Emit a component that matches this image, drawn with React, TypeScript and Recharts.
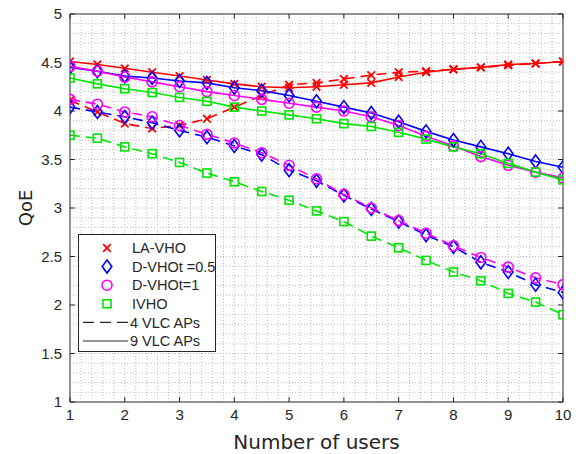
import React from "react"
import { LineChart, Line, XAxis, YAxis, ReferenceLine, Legend } from "recharts"

// x: number of users
const users = [1, 1.5, 2, 2.5, 3, 3.5, 4, 4.5, 5, 5.5, 6, 6.5, 7, 7.5, 8, 8.5, 9, 9.5, 10]

// 9 VLC APs (solid)
const laVho9 = [4.51, 4.48, 4.44, 4.4, 4.36, 4.32, 4.28, 4.25, 4.24, 4.25, 4.27, 4.29, 4.35, 4.4, 4.43, 4.45, 4.48, 4.49, 4.51]
const dVho05_9 = [4.45, 4.41, 4.36, 4.34, 4.31, 4.29, 4.24, 4.21, 4.16, 4.1, 4.04, 3.98, 3.89, 3.79, 3.7, 3.63, 3.56, 3.48, 3.42]
const dVho1_9 = [4.46, 4.41, 4.35, 4.3, 4.25, 4.2, 4.16, 4.12, 4.08, 4.04, 4.0, 3.94, 3.85, 3.74, 3.64, 3.53, 3.44, 3.37, 3.31]
const iVho9 = [4.34, 4.28, 4.23, 4.19, 4.14, 4.1, 4.04, 4.0, 3.96, 3.92, 3.87, 3.84, 3.78, 3.71, 3.63, 3.56, 3.46, 3.37, 3.29]

// 4 VLC APs (dashed)
const laVho4 = [4.11, 3.99, 3.87, 3.82, 3.85, 3.92, 4.04, 4.16, 4.27, 4.29, 4.33, 4.37, 4.4, 4.41, 4.43, 4.45, 4.47, 4.49, 4.51]
const dVho05_4 = [4.04, 3.99, 3.94, 3.88, 3.8, 3.73, 3.64, 3.55, 3.39, 3.28, 3.13, 2.99, 2.86, 2.72, 2.6, 2.44, 2.34, 2.21, 2.13]
const dVho1_4 = [4.12, 4.07, 3.99, 3.94, 3.85, 3.76, 3.67, 3.57, 3.44, 3.3, 3.14, 3.0, 2.87, 2.74, 2.61, 2.49, 2.39, 2.28, 2.21]
const iVho4 = [3.75, 3.72, 3.63, 3.56, 3.47, 3.36, 3.27, 3.17, 3.08, 2.97, 2.86, 2.71, 2.59, 2.46, 2.34, 2.25, 2.12, 2.03, 1.9]

const xTicks = [1, 2, 3, 4, 5, 6, 7, 8, 9, 10]
const yTicks = [1, 1.5, 2, 2.5, 3, 3.5, 4, 4.5, 5]

const legendItems = [
  { label: "LA-VHO", marker: "x", color: "#ff0000" },
  { label: "D-VHOt =0.5", marker: "diamond", color: "#0000ff" },
  { label: "D-VHOt=1", marker: "circle", color: "#ff00ff" },
  { label: "IVHO", marker: "square", color: "#00e600" },
  { label: "4 VLC APs", marker: "dash", color: "#262626" },
  { label: "9 VLC APs", marker: "solid", color: "#262626" },
]

const series = [
  { key: "la4", values: laVho4, color: "#ff0000", marker: "x", dashed: true },
  { key: "dv05_4", values: dVho05_4, color: "#0000ff", marker: "diamond", dashed: true },
  { key: "dv1_4", values: dVho1_4, color: "#ff00ff", marker: "circle", dashed: true },
  { key: "iv4", values: iVho4, color: "#00e600", marker: "square", dashed: true },
  { key: "la9", values: laVho9, color: "#ff0000", marker: "x", dashed: false },
  { key: "dv05_9", values: dVho05_9, color: "#0000ff", marker: "diamond", dashed: false },
  { key: "dv1_9", values: dVho1_9, color: "#ff00ff", marker: "circle", dashed: false },
  { key: "iv9", values: iVho9, color: "#00e600", marker: "square", dashed: false },
]

const data = users.map((u, i) => {
  const row: Record<string, number> = { users: u }
  series.forEach((s) => (row[s.key] = s.values[i]))
  return row
})

// minor grid positions
const xMinor: number[] = []
for (let i = 1; i < 45; i++) xMinor.push(Math.round((1 + i * 0.2) * 10) / 10)
const yMinor: number[] = []
for (let i = 1; i < 40; i++) yMinor.push(Math.round((1 + i * 0.1) * 10) / 10)

const TEXT = "#262626"
const FONT = "'Liberation Sans', Arial, sans-serif"

const MarkerShape = ({ kind, color, cx, cy }: { kind: string; color: string; cx: number; cy: number }) => {
  if (kind === "x") {
    const s = 3.8
    return (
      <g stroke={color} strokeWidth={1.8}>
        <line x1={cx - s} y1={cy - s} x2={cx + s} y2={cy + s} />
        <line x1={cx - s} y1={cy + s} x2={cx + s} y2={cy - s} />
      </g>
    )
  }
  if (kind === "diamond") {
    return (
      <polygon
        points={`${cx},${cy - 6.5} ${cx + 4.8},${cy} ${cx},${cy + 6.5} ${cx - 4.8},${cy}`}
        fill="none"
        stroke={color}
        strokeWidth={1.6}
      />
    )
  }
  if (kind === "circle") {
    return <circle cx={cx} cy={cy} r={5} fill="none" stroke={color} strokeWidth={1.6} />
  }
  if (kind === "square") {
    return <rect x={cx - 4} y={cy - 4} width={8} height={8} fill="none" stroke={color} strokeWidth={1.6} />
  }
  return null
}

const makeDot = (kind: string, color: string) => (props: any) => {
  const { cx, cy, index } = props
  if (cx == null || cy == null) return <g key={index} />
  return (
    <g key={index}>
      <MarkerShape kind={kind} color={color} cx={cx} cy={cy} />
    </g>
  )
}

const LegendBox = () => (
  <div
    style={{
      width: 138,
      height: 118,
      border: `1px solid ${TEXT}`,
      background: "#fff",
      boxSizing: "border-box",
    }}
  >
    <svg width={136} height={116} style={{ display: "block" }}>
      {legendItems.map((it, i) => {
        const y = 13 + i * 18.6
        const isLine = it.marker === "dash" || it.marker === "solid"
        return (
          <g key={it.label}>
            {isLine ? (
              <line
                x1={4}
                x2={49}
                y1={y}
                y2={y}
                stroke={it.color}
                strokeWidth={1.2}
                strokeDasharray={it.marker === "dash" ? "11 6" : undefined}
              />
            ) : (
              <MarkerShape kind={it.marker} color={it.color} cx={28} cy={y} />
            )}
            <text
              x={isLine ? 51 : 53}
              y={y}
              dy="0.36em"
              fontFamily={FONT}
              fontSize={14.5}
              fill={TEXT}
            >
              {it.label}
            </text>
          </g>
        )
      })}
    </svg>
  </div>
)

export default function App() {
  return (
    <div style={{ position: "absolute", left: 0, top: 0, background: "#fff" }}>
      <LineChart
        width={576}
        height={454}
        data={data}
        margin={{ top: 14, right: 13, left: 20, bottom: 32 }}
      >
        {xMinor.map((v) => (
          <ReferenceLine key={`gx${v}`} x={v} stroke="#bcbcbc" strokeDasharray="1 2" strokeWidth={1} />
        ))}
        {yMinor.map((v) => (
          <ReferenceLine key={`gy${v}`} y={v} stroke="#bcbcbc" strokeDasharray="1 2" strokeWidth={1} />
        ))}
        <XAxis
          dataKey="users"
          type="number"
          domain={[1, 10]}
          ticks={xTicks}
          allowDataOverflow
          height={20}
          tickLine={false}
          tickSize={7}
          tickMargin={0}
          axisLine={{ stroke: TEXT, strokeWidth: 1 }}
          tick={{ fill: TEXT, fontSize: 15, fontFamily: FONT }}
          label={{
            value: "Number of users",
            position: "bottom",
            offset: 13,
            style: { fill: TEXT, fontSize: 20, fontFamily: "'DejaVu Sans', sans-serif" },
          }}
        />
        <YAxis
          type="number"
          domain={[1, 5]}
          ticks={yTicks}
          allowDataOverflow
          width={50}
          tickLine={false}
          tickSize={6}
          tickMargin={2}
          axisLine={{ stroke: TEXT, strokeWidth: 1 }}
          tick={{ fill: TEXT, fontSize: 15, fontFamily: FONT }}
          label={{
            value: "QoE",
            angle: -90,
            position: "insideLeft",
            offset: 6,
            style: { fill: TEXT, fontSize: 18, fontFamily: "'DejaVu Sans', sans-serif", textAnchor: "middle" },
          }}
        />
        <ReferenceLine y={5} stroke={TEXT} strokeWidth={1} />
        <ReferenceLine x={10} stroke={TEXT} strokeWidth={1} />
        {xTicks.map((t) => (
          <ReferenceLine key={`tb${t}`} segment={[{ x: t, y: 1 }, { x: t, y: 1.05 }]} stroke={TEXT} />
        ))}
        {xTicks.map((t) => (
          <ReferenceLine key={`tt${t}`} segment={[{ x: t, y: 5 }, { x: t, y: 4.95 }]} stroke={TEXT} />
        ))}
        {yTicks.map((t) => (
          <ReferenceLine key={`tl${t}`} segment={[{ x: 1, y: t }, { x: 1.09, y: t }]} stroke={TEXT} />
        ))}
        {yTicks.map((t) => (
          <ReferenceLine key={`tr${t}`} segment={[{ x: 10, y: t }, { x: 9.91, y: t }]} stroke={TEXT} />
        ))}
        {series.map((s) => (
          <Line
            key={s.key}
            dataKey={s.key}
            type="linear"
            stroke={s.color}
            strokeWidth={1.6}
            strokeDasharray={s.dashed ? "10 6" : undefined}
            dot={makeDot(s.marker, s.color)}
            activeDot={false}
            legendType="none"
            isAnimationActive={false}
          />
        ))}
        <Legend
          layout="vertical"
          align="center"
          verticalAlign="middle"
          content={() => <LegendBox />}
          wrapperStyle={{ left: 78, top: 234, width: 138, height: 118 }}
        />
      </LineChart>
    </div>
  )
}
